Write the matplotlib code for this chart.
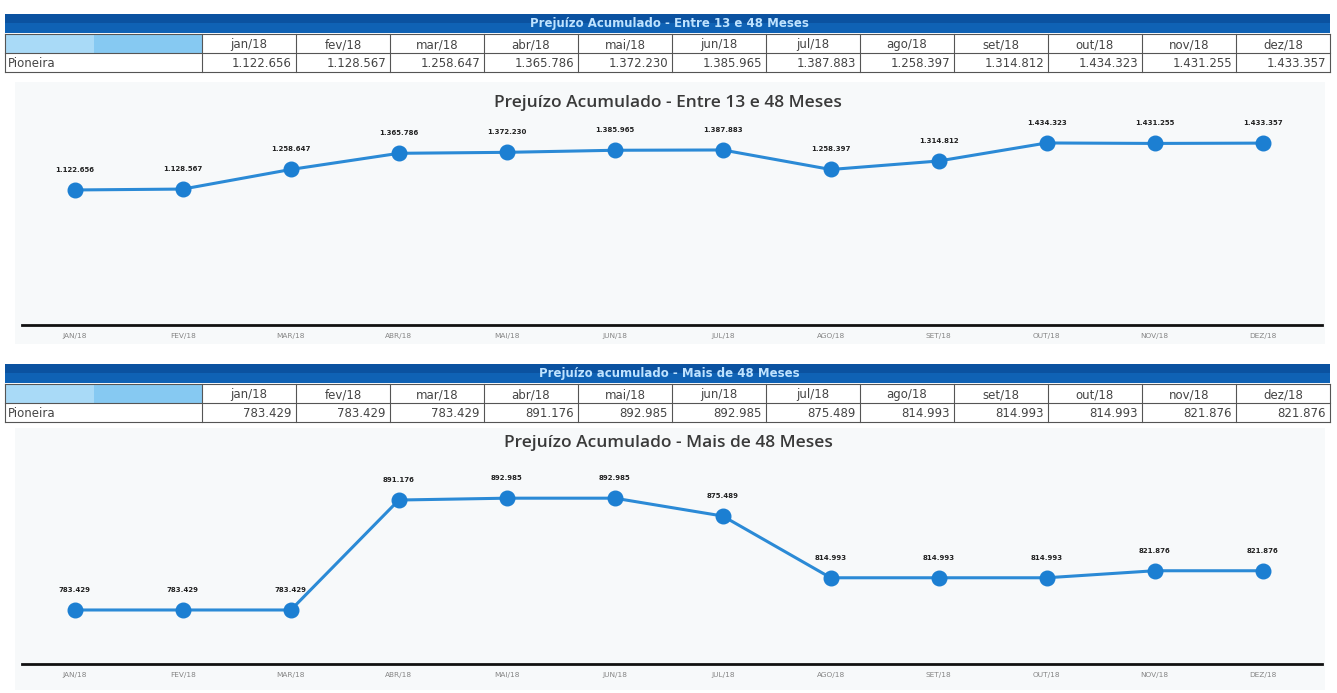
import matplotlib.pyplot as plt
from matplotlib.patches import Rectangle

W, H = 1337, 693

months = ["jan/18", "fev/18", "mar/18", "abr/18", "mai/18", "jun/18",
          "jul/18", "ago/18", "set/18", "out/18", "nov/18", "dez/18"]
axis_labels = ["JAN/18", "FEV/18", "MAR/18", "ABR/18", "MAI/18", "JUN/18",
               "JUL/18", "AGO/18", "SET/18", "OUT/18", "NOV/18", "DEZ/18"]
entity = "Pioneira"

title_13_48 = "Prejuízo Acumulado - Entre 13 e 48 Meses"
table_title_48 = "Prejuízo acumulado - Mais de 48 Meses"
title_48 = "Prejuízo Acumulado - Mais de 48 Meses"

loss_13_48 = [1122656, 1128567, 1258647, 1365786, 1372230, 1385965,
              1387883, 1258397, 1314812, 1434323, 1431255, 1433357]
loss_48_plus = [783429, 783429, 783429, 891176, 892985, 892985,
                875489, 814993, 814993, 814993, 821876, 821876]

LINE = "#2b8ad6"
DOT = "#1c7fd2"
HEADER = "#0f62b5"
BORDER = "#555555"
TXT = "#444444"


def br(v):
    return f"{v:,}".replace(",", ".")


def px_axes(fig, left, top, right, bottom):
    return fig.add_axes([left / W, 1 - bottom / H, (right - left) / W, (bottom - top) / H])


def draw_table(cv, top, title, values):
    x0, x1, first = 5, 1330, 202
    cw = (x1 - first) / len(months)
    rh = 19
    cv.add_patch(Rectangle((x0, top), x1 - x0, rh, color=HEADER, lw=0))
    cv.add_patch(Rectangle((x0, top), x1 - x0, rh * 0.45, color="#0b52a0", lw=0))
    cv.text((x0 + x1) / 2 + 2, top + rh / 2, title, ha="center", va="center",
            fontsize=8.5, fontweight="bold", color="#bfe3ff")
    r2 = top + rh + 1
    cv.add_patch(Rectangle((x0, r2), first - x0, rh, color="#86c9f2", lw=0))
    cv.add_patch(Rectangle((x0, r2), (first - x0) * 0.45, rh, color="#a9daf7", lw=0))
    r3 = r2 + rh
    for i, (m, v) in enumerate(zip(months, values)):
        cx = first + i * cw
        cv.text(cx + cw / 2, r2 + rh / 2 + 1, m, ha="center", va="center",
                fontsize=8.5, color=TXT)
        cv.text(cx + cw - 4, r3 + rh / 2 + 1, br(v), ha="right", va="center",
                fontsize=8.5, color=TXT)
    cv.text(x0 + 3, r3 + rh / 2 + 1, entity, ha="left", va="center",
            fontsize=8.5, color=TXT)
    for y in (r2, r3, r3 + rh):
        cv.plot([x0, x1], [y, y], color=BORDER, lw=0.8)
    cv.plot([x0, x0], [r2, r3 + rh], color=BORDER, lw=0.8)
    for i in range(len(months) + 1):
        cx = first + i * cw
        cv.plot([cx, cx], [r2, r3 + rh], color=BORDER, lw=0.8)


def draw_chart(fig, top, bottom, values, ylim):
    ax = px_axes(fig, 22, top, 1322, bottom)
    ax.patch.set_alpha(0)
    x = list(range(len(values)))
    ax.plot(x, values, color=LINE, lw=2.2, marker="o", ms=10.5,
            mfc=DOT, mec=DOT, zorder=3)
    for i, v in zip(x, values):
        ax.annotate(br(v), (i, v), xytext=(0, 14.5), textcoords="offset points",
                    ha="center", va="center", fontsize=5, fontweight="bold",
                    color="#222222")
    ax.set_xlim(-0.49, 11.55)
    ax.set_ylim(*ylim)
    ax.set_xticks(x)
    ax.set_xticklabels(axis_labels, fontsize=5.3, color="#858585")
    ax.set_yticks([])
    ax.tick_params(axis="x", length=0, pad=6)
    for s in ("left", "top", "right"):
        ax.spines[s].set_visible(False)
    ax.spines["bottom"].set_color("#111111")
    ax.spines["bottom"].set_linewidth(2)
    return ax


def main():
    fig = plt.figure(figsize=(W / 100, H / 100), dpi=100)
    fig.patch.set_facecolor("white")
    cv = fig.add_axes([0, 0, 1, 1])
    cv.set_xlim(0, W)
    cv.set_ylim(H, 0)
    cv.axis("off")

    # faint scan tint behind the charts
    cv.add_patch(Rectangle((15, 82), 1310, 262, color="#f7f9fa", lw=0, zorder=0))
    cv.add_patch(Rectangle((15, 428), 1310, 262, color="#f7f9fa", lw=0, zorder=0))

    draw_table(cv, 14, title_13_48, loss_13_48)
    draw_table(cv, 364, table_title_48, loss_48_plus)

    cv.text(668, 103, title_13_48, ha="center", va="center", fontsize=12.5,
            family="Open Sans", fontweight="semibold", color="#3a3a3a")
    cv.text(668, 443, title_48, ha="center", va="center", fontsize=12.5,
            family="Open Sans", fontweight="semibold", color="#3a3a3a")

    draw_chart(fig, 110, 325, loss_13_48, (227000, 1653000))
    draw_chart(fig, 455, 664, loss_48_plus, (730500, 935300))

    fig.savefig("out.png", dpi=100)
    plt.close(fig)


if __name__ == "__main__":
    main()
